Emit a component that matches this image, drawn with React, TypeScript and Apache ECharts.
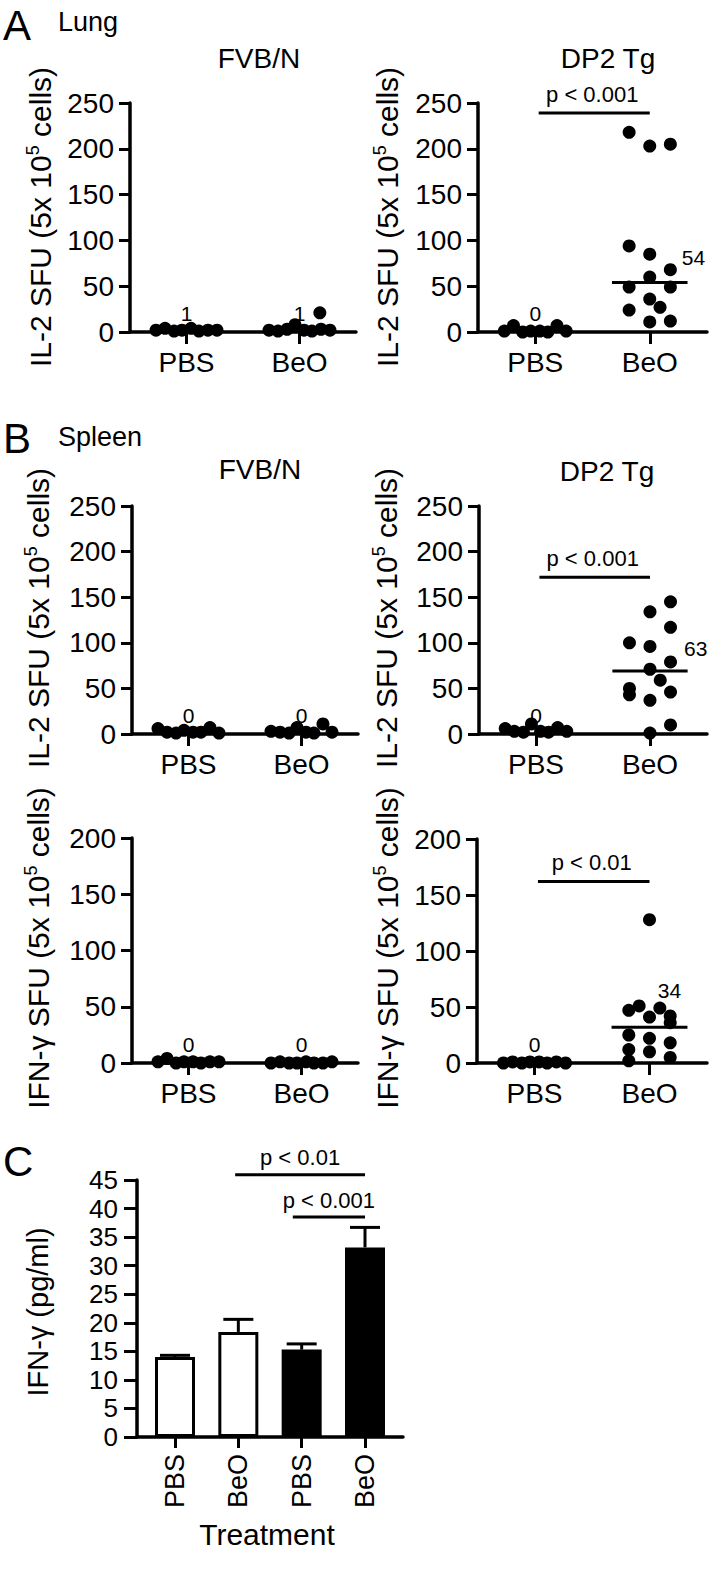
import React, { useEffect, useRef } from "react";
import * as echarts from "echarts";

const FONT = "'Liberation Sans', Arial, Helvetica, sans-serif";
const BLACK = "#000000";

// ---------- categories ----------
const groupLabels = ["PBS", "BeO"];
const treatmentLabels = ["PBS", "BeO", "PBS", "BeO"];

// horizontal spread (in category units) of a row of near-zero dots
const rowJitter = [-0.27, -0.19, -0.11, -0.04, 0.04, 0.11, 0.19, 0.27];

// ---------- A: Lung, IL-2 SFU ----------
const lungFvbPbs = [2, 4, 1, 2, 4, 1, 2, 2];
const lungFvbBeo = [2, 1, 3, 8, 2, 1, 3, 2, 21];
const lungFvbBeoJitter = [-0.27, -0.19, -0.11, -0.04, 0.04, 0.11, 0.19, 0.27, 0.18];
const lungFvbLabels = ["1", "1"];

const lungDp2Pbs = [1, 7, 0, 1, 1, 0, 7, 1];
const lungDp2Beo = [218, 203, 205, 94, 85, 68, 60, 49, 49, 36, 24, 27, 11, 12];
const lungDp2BeoJitter = [-0.18, 0, 0.18, -0.18, 0, 0.18, 0, -0.18, 0.18, 0, -0.18, 0.09, 0, 0.18];
const lungDp2Labels = ["0"];
const lungDp2Median = 54;
const lungDp2MedianLabel = "54";
const lungDp2P = "p < 0.001";
const lungDp2PLevel = 239;

// ---------- B: Spleen, IL-2 SFU ----------
const spleenIl2FvbPbs = [6, 2, 1, 4, 2, 2, 7, 1];
const spleenIl2FvbBeo = [3, 2, 1, 7, 2, 1, 11, 2];
const spleenIl2FvbLabels = ["0", "0"];

const spleenIl2Dp2Pbs = [6, 3, 2, 11, 3, 2, 7, 3];
const spleenIl2Dp2Beo = [145, 134, 117, 100, 96, 79, 71, 59, 50, 43, 46, 37, 10, 1];
const spleenIl2Dp2BeoJitter = [0.18, 0, 0.18, -0.18, 0, 0.18, 0, 0.09, -0.18, -0.18, 0.18, 0, 0.18, 0];
const spleenIl2Dp2Labels = ["0"];
const spleenIl2Dp2Median = 69;
const spleenIl2Dp2MedianLabel = "63";
const spleenIl2Dp2P = "p < 0.001";
const spleenIl2Dp2PLevel = 172;

// ---------- B: Spleen, IFN-γ SFU ----------
const spleenIfnFvbPbs = [1, 4, 0, 1, 1, 0, 1, 1];
const spleenIfnFvbBeo = [0, 1, 0, 0, 1, 0, 0, 1];
const spleenIfnFvbLabels = ["0", "0"];

const spleenIfnDp2Pbs = [0, 1, 0, 1, 1, 0, 1, 0];
const spleenIfnDp2Beo = [128, 51, 49, 47, 42, 41, 36, 25, 22, 18, 12, 10, 5, 2];
const spleenIfnDp2BeoJitter = [0, -0.09, 0.09, -0.18, 0.18, 0, 0.18, -0.18, 0, 0.18, -0.18, 0, 0.18, -0.18];
const spleenIfnDp2Labels = ["0"];
const spleenIfnDp2Median = 32;
const spleenIfnDp2MedianLabel = "34";
const spleenIfnDp2P = "p < 0.01";
const spleenIfnDp2PLevel = 162;

// ---------- C: IFN-γ (pg/ml) ----------
const barValues = [14, 18.4, 15.3, 33.2];
const barErrors = [0.3, 2.2, 1.0, 3.5];
const barFill = ["#ffffff", "#ffffff", "#000000", "#000000"];
const barBrackets = [
  [1.95, 4, 45.9],
  [2.86, 4, 38.5],
];
const barBracketTexts = ["p < 0.01", "p < 0.001"];

// ---------- layout ----------
const scatterLayouts = [
  { left: 130, top: 103, width: 226, height: 229, yMax: 250, medDx: 6, medDy: -25 },
  { left: 478, top: 103, width: 229, height: 229, yMax: 250, medDx: 6, medDy: -25 },
  { left: 132, top: 506, width: 226, height: 228, yMax: 250, medDx: 8, medDy: -23 },
  { left: 479, top: 506, width: 228, height: 228, yMax: 250, medDx: 8, medDy: -23 },
  { left: 132, top: 838, width: 226, height: 225, yMax: 200, medDx: -18, medDy: -37 },
  { left: 477, top: 839, width: 230, height: 224, yMax: 200, medDx: -18, medDy: -37 },
];
const barLayout = { left: 137, top: 1180, width: 266, height: 257 };

type Panel = {
  pbs: number[];
  pbsJitter: number[];
  beo: number[];
  beoJitter: number[];
  labels: string[];
  median?: number;
  medianLabel?: string;
  pText?: string;
  pLevel?: number;
};

const scatterPanels: Panel[] = [
  { pbs: lungFvbPbs, pbsJitter: rowJitter, beo: lungFvbBeo, beoJitter: lungFvbBeoJitter, labels: lungFvbLabels },
  {
    pbs: lungDp2Pbs, pbsJitter: rowJitter, beo: lungDp2Beo, beoJitter: lungDp2BeoJitter, labels: lungDp2Labels,
    median: lungDp2Median, medianLabel: lungDp2MedianLabel, pText: lungDp2P, pLevel: lungDp2PLevel,
  },
  { pbs: spleenIl2FvbPbs, pbsJitter: rowJitter, beo: spleenIl2FvbBeo, beoJitter: rowJitter, labels: spleenIl2FvbLabels },
  {
    pbs: spleenIl2Dp2Pbs, pbsJitter: rowJitter, beo: spleenIl2Dp2Beo, beoJitter: spleenIl2Dp2BeoJitter, labels: spleenIl2Dp2Labels,
    median: spleenIl2Dp2Median, medianLabel: spleenIl2Dp2MedianLabel, pText: spleenIl2Dp2P, pLevel: spleenIl2Dp2PLevel,
  },
  { pbs: spleenIfnFvbPbs, pbsJitter: rowJitter, beo: spleenIfnFvbBeo, beoJitter: rowJitter, labels: spleenIfnFvbLabels },
  {
    pbs: spleenIfnDp2Pbs, pbsJitter: rowJitter, beo: spleenIfnDp2Beo, beoJitter: spleenIfnDp2BeoJitter, labels: spleenIfnDp2Labels,
    median: spleenIfnDp2Median, medianLabel: spleenIfnDp2MedianLabel, pText: spleenIfnDp2P, pLevel: spleenIfnDp2PLevel,
  },
];

const axisLineStyle = { color: BLACK, width: 3.5 };
const tickLineStyle = { color: BLACK, width: 3 };

function txt(text: string, size: number, align: string, x: number, y: number, extra: any = {}) {
  return {
    type: "text",
    x,
    y,
    silent: true,
    ...extra,
    style: {
      text,
      fill: BLACK,
      fontSize: size,
      fontFamily: FONT,
      align,
      textAlign: align,
      verticalAlign: "middle",
      textVerticalAlign: "middle",
      ...(extra.style || {}),
    },
  };
}

function yTitle(text: string, x: number, y: number, size = 30) {
  return {
    type: "text",
    x,
    y,
    rotation: Math.PI / 2,
    silent: true,
    style: {
      text,
      fill: BLACK,
      fontSize: size,
      fontFamily: FONT,
      lineHeight: 32,
      align: "center",
      textAlign: "center",
      verticalAlign: "middle",
      textVerticalAlign: "middle",
      rich: {
        sup: { fontSize: 18, fontFamily: FONT, lineHeight: 21, verticalAlign: "top", fill: BLACK },
      },
    },
  };
}

function buildOption() {
  const grids: any[] = [];
  const xAxes: any[] = [];
  const yAxes: any[] = [];
  const series: any[] = [];

  scatterPanels.forEach((p, i) => {
    const L = scatterLayouts[i];
    grids.push({ left: L.left, top: L.top, width: L.width, height: L.height });
    xAxes.push({
      gridIndex: i,
      type: "value",
      min: 0.5,
      max: 2.5,
      splitLine: { show: false },
      axisLine: { show: true, onZero: false, lineStyle: axisLineStyle },
      axisTick: { show: true, customValues: [1, 2], length: 12, lineStyle: tickLineStyle },
      axisLabel: {
        customValues: [1, 2],
        formatter: (v: number) => groupLabels[Math.round(v) - 1] ?? "",
        fontSize: 28,
        fontFamily: FONT,
        color: BLACK,
        margin: 16,
      },
    });
    yAxes.push({
      gridIndex: i,
      type: "value",
      min: 0,
      max: L.yMax,
      interval: 50,
      splitLine: { show: false },
      axisLine: { show: true, lineStyle: axisLineStyle },
      axisTick: { show: true, length: 11, lineStyle: tickLineStyle },
      axisLabel: {
        fontSize: 28, fontFamily: FONT, color: BLACK, margin: 16,
        showMinLabel: true, showMaxLabel: true,
      },
    });

    const pts = [
      ...p.pbs.map((v, k) => [1 + p.pbsJitter[k], v]),
      ...p.beo.map((v, k) => [2 + p.beoJitter[k], v]),
    ];
    series.push({
      type: "scatter",
      xAxisIndex: i,
      yAxisIndex: i,
      data: pts,
      symbol: "circle",
      symbolSize: 13,
      itemStyle: { color: BLACK, opacity: 1 },
      clip: false,
      silent: true,
      z: 5,
    });

    const labels = p.labels;
    series.push({
      type: "custom",
      xAxisIndex: i,
      yAxisIndex: i,
      clip: false,
      silent: true,
      z: 6,
      data: labels.map((_, k) => [k + 1, 0]),
      renderItem: (params: any, api: any) => {
        const pt = api.coord([api.value(0), api.value(1)]);
        return txt(labels[params.dataIndex], 21, "center", pt[0], pt[1] - 19);
      },
    });

    if (p.median != null) {
      const medLabel = p.medianLabel || "";
      series.push({
        type: "custom",
        xAxisIndex: i,
        yAxisIndex: i,
        clip: false,
        silent: true,
        z: 6,
        data: [[2, p.median]],
        renderItem: (params: any, api: any) => {
          const x = api.value(0);
          const v = api.value(1);
          const a = api.coord([x - 0.33, v]);
          const b = api.coord([x + 0.33, v]);
          return {
            type: "group",
            children: [
              { type: "line", shape: { x1: a[0], y1: a[1], x2: b[0], y2: b[1] }, style: { stroke: BLACK, lineWidth: 3 } },
              txt(medLabel, 21, "center", b[0] + L.medDx, b[1] + L.medDy),
            ],
          };
        },
      });
    }

    if (p.pText) {
      const pText = p.pText;
      series.push({
        type: "custom",
        xAxisIndex: i,
        yAxisIndex: i,
        clip: false,
        silent: true,
        z: 6,
        data: [[1.03, 2, p.pLevel]],
        renderItem: (params: any, api: any) => {
          const a = api.coord([api.value(0), api.value(2)]);
          const b = api.coord([api.value(1), api.value(2)]);
          return {
            type: "group",
            children: [
              { type: "line", shape: { x1: a[0], y1: a[1], x2: b[0], y2: b[1] }, style: { stroke: BLACK, lineWidth: 3 } },
              txt(pText, 22, "center", (a[0] + b[0]) / 2 - 2, a[1] - 19),
            ],
          };
        },
      });
    }
  });

  // ---------- bar panel C ----------
  const ci = scatterPanels.length;
  grids.push({ ...barLayout });
  xAxes.push({
    gridIndex: ci,
    type: "value",
    min: 0.4,
    max: 4.6,
    splitLine: { show: false },
    axisLine: { show: true, onZero: false, lineStyle: axisLineStyle },
    axisTick: { show: true, customValues: [1, 2, 3, 4], length: 11, lineStyle: tickLineStyle },
    axisLabel: {
      customValues: [1, 2, 3, 4],
      formatter: (v: number) => treatmentLabels[Math.round(v) - 1] ?? "",
      rotate: 90,
      fontSize: 27,
      fontFamily: FONT,
      color: BLACK,
      margin: 17,
    },
  });
  yAxes.push({
    gridIndex: ci,
    type: "value",
    min: 0,
    max: 45,
    interval: 5,
    splitLine: { show: false },
    axisLine: { show: true, lineStyle: axisLineStyle },
    axisTick: { show: true, length: 13, lineStyle: tickLineStyle },
    axisLabel: {
      fontSize: 26, fontFamily: FONT, color: BLACK, margin: 19,
      showMinLabel: true, showMaxLabel: true, hideOverlap: false,
    },
  });
  series.push({
    type: "bar",
    xAxisIndex: ci,
    yAxisIndex: ci,
    barWidth: 40,
    silent: true,
    data: barValues.map((v, k) => ({
      value: [k + 1, v],
      itemStyle: { color: barFill[k], borderColor: BLACK, borderWidth: 3 },
    })),
  });
  series.push({
    type: "custom",
    xAxisIndex: ci,
    yAxisIndex: ci,
    clip: false,
    silent: true,
    z: 6,
    data: barValues.map((v, k) => [k + 1, v, barErrors[k]]),
    renderItem: (params: any, api: any) => {
      const x = api.value(0);
      const v = api.value(1);
      const e = api.value(2);
      const lo = api.coord([x, v]);
      const hi = api.coord([x, v + e]);
      return {
        type: "group",
        children: [
          { type: "line", shape: { x1: lo[0], y1: lo[1], x2: hi[0], y2: hi[1] }, style: { stroke: BLACK, lineWidth: 3 } },
          { type: "line", shape: { x1: hi[0] - 15, y1: hi[1], x2: hi[0] + 15, y2: hi[1] }, style: { stroke: BLACK, lineWidth: 3 } },
        ],
      };
    },
  });
  series.push({
    type: "custom",
    xAxisIndex: ci,
    yAxisIndex: ci,
    clip: false,
    silent: true,
    z: 6,
    data: barBrackets,
    renderItem: (params: any, api: any) => {
      const a = api.coord([api.value(0), api.value(2)]);
      const b = api.coord([api.value(1), api.value(2)]);
      return {
        type: "group",
        children: [
          { type: "line", shape: { x1: a[0], y1: a[1], x2: b[0], y2: b[1] }, style: { stroke: BLACK, lineWidth: 3 } },
          txt(barBracketTexts[params.dataIndex], 22, "center", (a[0] + b[0]) / 2, a[1] - 17),
        ],
      };
    },
  });

  const il2Title = "IL-2 SFU (5x 10{sup|5} cells)";
  const ifnSfuTitle = "IFN-γ SFU (5x 10{sup|5} cells)";

  const graphics: any[] = [
    txt("A", 42, "left", 3, 25),
    txt("Lung", 27, "left", 58, 22),
    txt("FVB/N", 28, "center", 259, 58),
    txt("DP2 Tg", 28, "center", 608, 58),
    txt("B", 42, "left", 3, 438),
    txt("Spleen", 27, "left", 58, 437),
    txt("FVB/N", 28, "center", 260, 469),
    txt("DP2 Tg", 28, "center", 607, 471),
    txt("C", 42, "left", 3, 1161),
    txt("Treatment", 30, "center", 267, 1534),
    yTitle(il2Title, 40, 217),
    yTitle(il2Title, 387, 217),
    yTitle(il2Title, 38, 618),
    yTitle(il2Title, 386, 618),
    yTitle(ifnSfuTitle, 38, 948),
    yTitle(ifnSfuTitle, 387, 948),
    yTitle("IFN-γ (pg/ml)", 38, 1312, 29),
  ];

  return {
    animation: false,
    backgroundColor: "#ffffff",
    textStyle: { fontFamily: FONT },
    grid: grids,
    xAxis: xAxes,
    yAxis: yAxes,
    series,
    graphic: { elements: graphics },
  };
}

export default function App() {
  const ref = useRef<HTMLDivElement>(null);
  useEffect(() => {
    document.body.style.margin = "0";
    if (!ref.current) return;
    const chart = echarts.init(ref.current, null, { renderer: "svg" });
    chart.setOption(buildOption() as any);
    return () => {
      chart.dispose();
    };
  }, []);
  return <div ref={ref} style={{ width: 710, height: 1585 }} />;
}
